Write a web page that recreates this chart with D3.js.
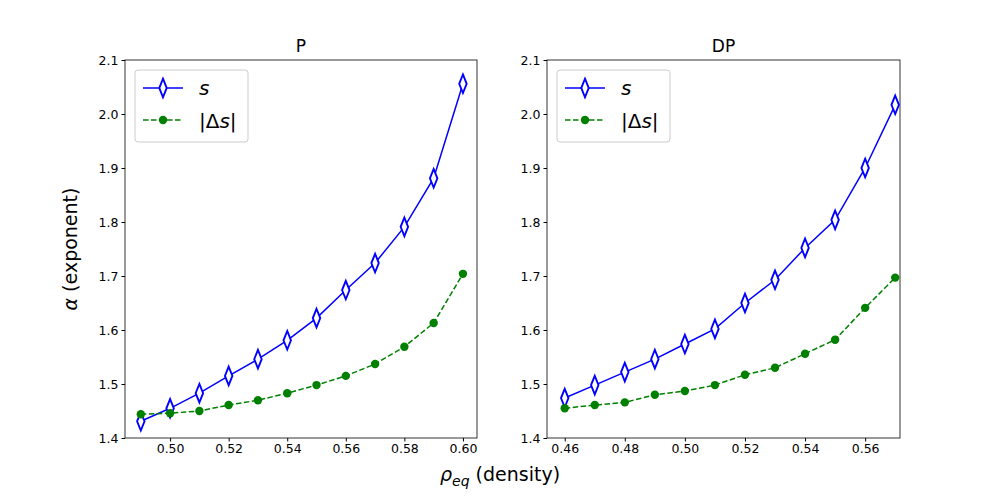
<!DOCTYPE html>
<html>
<head>
<meta charset="utf-8">
<script src="https://cdn.jsdelivr.net/npm/d3@7"></script>
<style>
body { margin: 0; background: #fff; }
text { font-family: "DejaVu Sans", sans-serif; }
</style>
</head>
<body>
<div id="plot"></div>
<script>
var rhoP = [0.49, 0.50, 0.51, 0.52, 0.53, 0.54, 0.55, 0.56, 0.57, 0.58, 0.59, 0.60];
var sP = [1.431, 1.455, 1.483, 1.515, 1.546, 1.581, 1.622, 1.674, 1.724, 1.791, 1.881, 2.056];
var dsP = [1.444, 1.446, 1.450, 1.461, 1.470, 1.483, 1.498, 1.515, 1.537, 1.569, 1.613, 1.704];

var rhoDP = [0.46, 0.47, 0.48, 0.49, 0.50, 0.51, 0.52, 0.53, 0.54, 0.55, 0.56, 0.57];
var sDP = [1.474, 1.498, 1.522, 1.546, 1.574, 1.602, 1.650, 1.693, 1.752, 1.804, 1.900, 2.017];
var dsDP = [1.455, 1.461, 1.466, 1.480, 1.487, 1.498, 1.517, 1.530, 1.556, 1.582, 1.641, 1.697];

var yTicks = [1.4, 1.5, 1.6, 1.7, 1.8, 1.9, 2.0, 2.1];
var xTicksP = [0.50, 0.52, 0.54, 0.56, 0.58, 0.60];
var xTicksDP = [0.46, 0.48, 0.50, 0.52, 0.54, 0.56];

var svg = d3.select("#plot").append("svg").attr("width", 1000).attr("height", 500);

var panels = [
    { title: "P", x: rhoP, s: sP, ds: dsP, ticks: xTicksP, dom: [0.4846, 0.6048], left: 125, right: 477 },
    { title: "DP", x: rhoDP, s: sDP, ds: dsDP, ticks: xTicksDP, dom: [0.4541, 0.5716], left: 547, right: 900 }
];
var plotTop = 60, plotBottom = 438;

panels.forEach(function (p) {
    var xScale = d3.scaleLinear().domain(p.dom).range([p.left, p.right]);
    var yScale = d3.scaleLinear().domain([1.4, 2.1]).range([plotBottom, plotTop]);
    var g = svg.append("g");

    g.append("g").attr("transform", "translate(0," + plotBottom + ")")
        .call(d3.axisBottom(xScale).tickValues(p.ticks).tickFormat(d3.format(".2f")).tickSizeOuter(0).tickSize(3.5))
        .call(function (a) { a.selectAll("text").attr("font-size", 12.5).attr("fill", "#000"); a.select(".domain").remove(); });
    g.append("g").attr("transform", "translate(" + p.left + ",0)")
        .call(d3.axisLeft(yScale).tickValues(yTicks).tickFormat(d3.format(".1f")).tickSizeOuter(0).tickSize(3.5))
        .call(function (a) { a.selectAll("text").attr("font-size", 12.5).attr("fill", "#000"); a.select(".domain").remove(); });
    g.append("rect").attr("x", p.left).attr("y", plotTop).attr("width", p.right - p.left).attr("height", plotBottom - plotTop)
        .attr("fill", "none").attr("stroke", "#000").attr("stroke-width", 0.8);

    g.append("text").attr("x", (p.left + p.right) / 2).attr("y", plotTop - 8).attr("text-anchor", "middle")
        .attr("font-size", 17).text(p.title);

    var line = d3.line().x(function (d, i) { return xScale(p.x[i]); }).y(function (d) { return yScale(d); });

    g.append("path").datum(p.s).attr("d", line).attr("fill", "none").attr("stroke", "blue").attr("stroke-width", 1.5);
    g.append("path").datum(p.ds).attr("d", line).attr("fill", "none").attr("stroke", "green")
        .attr("stroke-width", 1.5).attr("stroke-dasharray", "5.5,2.5");

    g.selectAll(".dia").data(p.s).enter().append("path")
        .attr("d", d3.symbol(d3.symbolDiamond, 75))
        .attr("transform", function (d, i) { return "translate(" + xScale(p.x[i]) + "," + yScale(d) + ") scale(0.8,1.15)"; })
        .attr("fill", "#fff").attr("stroke", "blue").attr("stroke-width", 2.2);
    g.selectAll(".dot").data(p.ds).enter().append("circle")
        .attr("cx", function (d, i) { return xScale(p.x[i]); }).attr("cy", function (d) { return yScale(d); })
        .attr("r", 4.2).attr("fill", "green");

    // legend
    var lx = p.left + 10, ly = plotTop + 10;
    var lg = g.append("g");
    lg.append("rect").attr("x", lx).attr("y", ly).attr("width", 113).attr("height", 72).attr("rx", 3)
        .attr("fill", "#fff").attr("stroke", "#ccc");
    lg.append("line").attr("x1", lx + 8).attr("x2", lx + 48).attr("y1", ly + 18).attr("y2", ly + 18)
        .attr("stroke", "blue").attr("stroke-width", 1.5);
    lg.append("path").attr("d", d3.symbol(d3.symbolDiamond, 75))
        .attr("transform", "translate(" + (lx + 28) + "," + (ly + 18) + ") scale(0.8,1.15)")
        .attr("fill", "#fff").attr("stroke", "blue").attr("stroke-width", 2.2);
    lg.append("line").attr("x1", lx + 8).attr("x2", lx + 48).attr("y1", ly + 50).attr("y2", ly + 50)
        .attr("stroke", "green").attr("stroke-width", 1.5).attr("stroke-dasharray", "5.5,2.5");
    lg.append("circle").attr("cx", lx + 28).attr("cy", ly + 50).attr("r", 4.2).attr("fill", "green");
    lg.append("text").attr("x", lx + 64).attr("y", ly + 25).attr("font-size", 20).attr("font-style", "italic").text("s");
    var t2 = lg.append("text").attr("x", lx + 64).attr("y", ly + 58).attr("font-size", 20);
    t2.append("tspan").text("|Δ");
    t2.append("tspan").attr("font-style", "italic").text("s");
    t2.append("tspan").text("|");
});

var yl = svg.append("text").attr("transform", "translate(77,249) rotate(-90)").attr("text-anchor", "middle").attr("font-size", 19);
yl.append("tspan").attr("font-style", "italic").text("α");
yl.append("tspan").text(" (exponent)");

var xl = svg.append("text").attr("x", 500).attr("y", 481).attr("text-anchor", "middle").attr("font-size", 19);
xl.append("tspan").attr("font-style", "italic").text("ρ");
xl.append("tspan").attr("font-style", "italic").attr("font-size", 14).attr("dy", 5).text("eq");
xl.append("tspan").attr("dy", -5).text(" (density)");
</script>
</body>
</html>
